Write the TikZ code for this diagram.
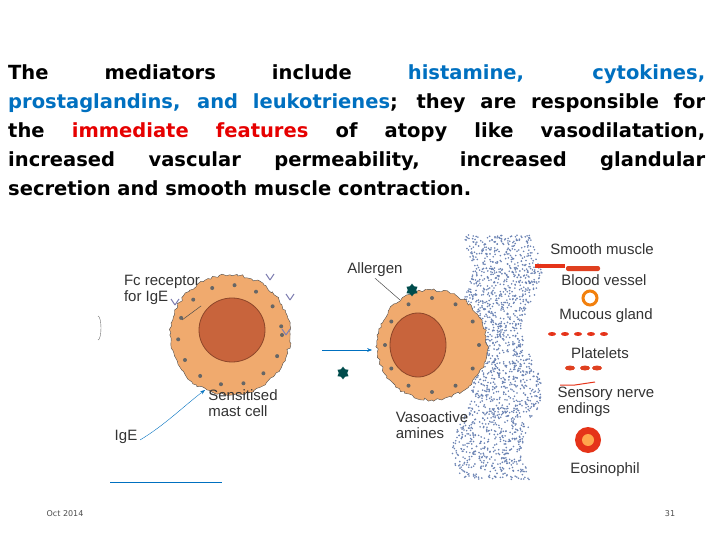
\documentclass[tikz,border=0pt]{standalone}
\usepackage{fontspec}
\setmainfont{DejaVu Sans}
\newfontfamily\lab{Liberation Sans}
\usetikzlibrary{arrows.meta,decorations.pathmorphing,shapes.geometric}
\definecolor{blu}{RGB}{0,112,192}
\definecolor{rd}{RGB}{230,0,0}
\definecolor{cellor}{RGB}{240,170,110}
\definecolor{nuc}{RGB}{200,100,60}
\definecolor{dot}{RGB}{70,100,160}
\tikzset{lbl/.style={font=\lab\fontsize{15}{16}\selectfont,align=left,inner sep=1pt,text=black!80},
 cell/.style={draw=black!70,fill=cellor,decorate,decoration={random steps,segment length=3pt,amplitude=1.5pt}},
 nucl/.style={draw=nuc!70!black,fill=nuc,line width=.8pt},
 ptr/.style={black!70,line width=.5pt},
 allg/.style={fill=teal!60!black,star,star points=6,inner sep=3pt},
 foot/.style={font=\fontsize{8}{9}\selectfont,text=black!70}}
\begin{document}
\begin{tikzpicture}[x=1pt,y=-1pt]
\useasboundingbox (0,0) rectangle (720,540);
\node[anchor=north west,inner sep=0,text width=697pt,align=justify,font=\bfseries\fontsize{19.5}{29}\selectfont] (txt) at (8,64)
{\hyphenpenalty=10000 The mediators include \textcolor{blu}{histamine, cytokines,}\linebreak \textcolor{blu}{prostaglandins, and leukotrienes}; they are responsible for\linebreak the \textcolor{rd}{immediate features} of atopy like vasodilatation,\linebreak increased vascular permeability, increased glandular\linebreak secretion and smooth muscle contraction.\par};
% granule cloud
\pgfmathsetseed{7}
\foreach \i in {1,...,1800}{
 \pgfmathsetmacro{\yy}{235+245*rnd}
 \pgfmathsetmacro{\xx}{462+70*rnd+10*sin(\yy*3)}
 \fill[dot!80] (\xx,\yy) circle (0.9);}
% cell 1
\fill[cell] (230,335) circle (60);
\fill[nucl] (232,330) ellipse (33 and 32);
\foreach \a in {0,25,...,359}{\fill[black!60] ({230+52*cos(\a)},{335+50*sin(\a)}) circle (2);}
\foreach \p in {(175,305),(270,280),(290,300),(286,335)}{\draw[blue!40!black!50,line width=1pt] \p ++(0,0) -- ++(4,-6) \p -- ++(-4,-6);}
\node[lbl] (fc) at (162,290) {Fc receptor\\for IgE};
\draw[ptr] (fc.south east) -- (182,320);
\node[lbl] (smc) at (243,403) {Sensitised\\mast cell};
\node[lbl] (ige) at (126,437) {IgE};
\draw[blu,-{Stealth}] (140,440) .. controls (165,425) and (185,405) .. (205,390);
\draw[black!60] (98,340) arc (90:-90:3 and 12);
% arrow
\coordinate (a1) at (322,350); \coordinate (a2) at (372,350);
\draw[blu,-{Stealth}] (a1) -- (a2);
\node[allg] (s1) at (343,373) {};
% cell 2
\fill[cell] (432,345) circle (55);
\fill[nucl] (418,345) ellipse (28 and 32);
\foreach \a in {0,30,...,359}{\fill[black!60] ({432+47*cos(\a)},{345+47*sin(\a)}) circle (2);}
\node[lbl] (al) at (375,270) {Allergen};
\draw[ptr] (al.south) -- (400,300);
\node[allg] (s2) at (412,290) {};
\node[lbl] (va) at (432,425) {Vasoactive\\amines};
% right list
\node[lbl] (l1) at (602,249) {Smooth muscle};
\node[lbl] (l2) at (604,280) {Blood vessel};
\node[lbl] (l3) at (606,316) {Mucous gland};
\node[lbl] (l4) at (600,353) {Platelets};
\node[lbl] (l5) at (606,402) {Sensory nerve\\endings};
\node[lbl] (l6) at (605,470) {Eosinophil};
\fill[red!60!brown] (535,264) rectangle (565,268);
\fill[red!50!brown,rounded corners=2pt] (566,266) rectangle (600,271);
\draw[orange!80!brown,line width=3pt] (590,298) circle (7);
\foreach \x in {552,565,578,591,604}{\fill[red!60!brown] (\x,334) ellipse (4 and 2);}
\foreach \x in {570,585,597}{\fill[red!50!brown] (\x,368) ellipse (5 and 2.5);}
\draw[red!60!brown,line width=1pt] (560,385) -- (575,385) -- (595,382);
\fill[red!60!brown] (588,440) circle (13); \fill[orange!70] (588,440) circle (6);
\draw[blu] (110,482) -- (222,482);
\node[foot] (d) at (65,514) {Oct 2014};
\node[foot] (n) at (670,514) {31};
\end{tikzpicture}
\end{document}
